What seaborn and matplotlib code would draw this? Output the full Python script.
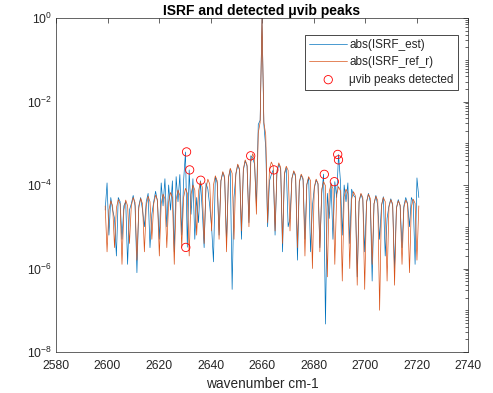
import numpy as np
import pandas as pd
import matplotlib
matplotlib.use('Agg')
import matplotlib.pyplot as plt
import matplotlib.ticker as mticker
import seaborn as sns

# wavenumber grid of the sampled ISRF (cm-1), centred on the 2660 line
wn_start = 2599.1
wn_step = 0.725
n_samples = 169

# log10 |ISRF_ref_r| (one row = one side lobe)
ref_log10 = [
    -4.50,
    -5.6, -4.6, -4.38, -4.5,
    -5.5, -4.55, -4.35, -4.45,
    -5.9, -4.6, -4.36, -4.5,
    -5.4, -4.5, -4.3, -4.42,
    -5.8, -4.55, -4.32, -4.45,
    -5.6, -4.5, -4.27, -4.4,
    -5.3, -4.45, -4.24, -4.36,
    -5.7, -4.45, -4.22, -4.33,
    -5.5, -4.4, -4.18, -4.3,
    -5.9, -4.35, -4.12, -4.25,
    -5.5, -4.3, -4.08, -4.2,
    -5.7, -4.22, -4.0, -4.12,
    -5.2, -4.15, -3.92, -4.05,
    -5.4, -4.08, -3.86, -3.98,
    -5.1, -4.0, -3.78, -3.9,
    -5.3, -3.9, -3.68, -3.8,
    -5.6, -3.82, -3.6, -3.72,
    -5.3, -3.72, -3.5, -3.62,
    -5.1, -3.62, -3.4, -3.52,
    -5.0, -3.45, -3.25, -3.38,
    -4.7, -2.75, -2.5, 0.0, -2.5, -2.8,
    -4.9, -3.62, -3.45, -3.55,
    -5.1, -3.65, -3.47, -3.58,
    -5.4, -3.72, -3.55, -3.65,
    -5.1, -3.84, -3.66, -3.76,
    -5.5, -3.92, -3.74, -3.84,
    -5.7, -3.98, -3.8, -3.9,
    -6.0, -4.05, -3.86, -3.96,
    -5.6, -4.1, -3.92, -4.02,
    -6.2, -4.16, -3.98, -4.08,
    -5.9, -4.22, -4.04, -4.14,
    -6.3, -4.28, -4.1, -4.2,
    -6.0, -4.34, -4.16, -4.26,
    -6.4, -4.38, -4.2, -4.3,
    -6.5, -4.4, -4.22, -4.32,
    -5.9, -4.45, -4.27, -4.37,
    -7.0, -4.48, -4.3, -4.4,
    -6.3, -4.53, -4.35, -4.45,
    -6.4, -4.56, -4.38, -4.48,
    -5.9, -4.54, -4.36, -4.46,
    -6.1, -4.52, -4.34, -4.44,
    -5.8, -4.5,
]

# log10 |ISRF_est|
est_log10 = [
    -4.6,
    -3.95, -5.2, -4.3, -4.6,
    -4.8, -5.7, -4.3, -4.4,
    -5.3, -4.5, -4.4, -5.9,
    -4.6, -4.45, -4.25, -4.5,
    -6.1, -4.5, -4.3, -4.6,
    -5.0, -4.4, -4.2, -5.5,
    -4.7, -4.4, -4.15, -4.4,
    -5.3, -3.95, -4.5, -3.85,
    -5.0, -4.0, -4.6, -3.9,
    -5.6, -3.8, -4.4, -3.75,
    -5.2, -3.9, -3.21, -5.49,
    -3.64, -4.7, -3.85, -5.3,
    -4.3, -4.9, -3.9, -4.6,
    -5.5, -3.95, -4.1, -4.5,
    -5.0, -5.84, -3.8, -3.95,
    -5.2, -3.9, -3.7, -3.85,
    -5.4, -3.85, -3.62, -6.5,
    -4.3, -3.75, -3.52, -3.65,
    -5.3, -3.65, -3.42, -3.55,
    -4.9, -3.3, -3.35, -3.5,
    -4.5, -2.55, -2.45, 0.0, -2.55, -3.1,
    -5.0, -3.9, -3.75, -3.64,
    -5.2, -3.7, -3.5, -3.62,
    -5.6, -3.75, -3.58, -5.0,
    -4.8, -3.85, -3.68, -3.8,
    -5.8, -3.95, -3.76, -3.88,
    -5.3, -4.0, -3.82, -5.6,
    -4.5, -4.08, -3.88, -3.98,
    -5.5, -4.2, -3.74, -7.33,
    -4.2, -4.8, -3.95, -5.3,
    -3.92, -4.3, -3.27, -3.9,
    -5.2, -4.0, -4.4, -3.95,
    -5.4, -4.1, -4.25, -4.3,
    -6.2, -4.4, -4.22, -4.35,
    -5.6, -4.42, -4.2, -4.4,
    -6.3, -4.45, -4.25, -4.5,
    -5.3, -4.5, -4.28, -5.7,
    -4.8, -4.5, -4.33, -4.5,
    -6.0, -4.55, -4.35, -4.5,
    -5.5, -4.5, -4.3, -4.45,
    -5.0, -4.3, -4.4, -5.9,
    -3.83, -4.3,
]

# detected uvib peaks
peak_wn = [2630.7, 2631.9, 2636.2, 2630.4, 2655.6, 2664.6, 2684.2, 2688.1, 2689.4, 2689.7]
peak_val = [6.2e-4, 2.3e-4, 1.3e-4, 3.2e-6, 5.0e-4, 2.3e-4, 1.8e-4, 1.2e-4, 5.4e-4, 4.0e-4]

wn = wn_start + wn_step * np.arange(n_samples)
df = pd.DataFrame({
    'wn': wn,
    'est': 10.0 ** np.array(est_log10),
    'ref': 10.0 ** np.array(ref_log10),
})

sns.set_theme(style='white')
plt.rcParams['font.family'] = ['Liberation Sans', 'DejaVu Sans']
plt.rcParams['axes.edgecolor'] = '#262626'
plt.rcParams['axes.linewidth'] = 0.5

fig = plt.figure(figsize=(4.93, 3.93), dpi=100)
ax = fig.add_axes([0.1136, 0.1043, 0.8357, 0.8499])

sns.lineplot(data=df, x='wn', y='est', ax=ax, color=(0, 0.447, 0.741),
             lw=0.5, sort=False, estimator=None, label='abs(ISRF_est)')
sns.lineplot(data=df, x='wn', y='ref', ax=ax, color=(0.85, 0.325, 0.098),
             lw=0.5, sort=False, estimator=None, label='abs(ISRF_ref_r)')
sns.scatterplot(x=peak_wn, y=peak_val, ax=ax, marker='o', s=36,
                facecolor='none', edgecolor='red', linewidth=0.6,
                label='\u03bcvib peaks detected', zorder=5)

ax.set_yscale('log')
ax.set_xlim(2580, 2740)
ax.set_ylim(1e-8, 1e0)
ax.xaxis.set_major_locator(mticker.MultipleLocator(20))
ax.yaxis.set_major_locator(mticker.FixedLocator([1e-8, 1e-6, 1e-4, 1e-2, 1e0]))
ax.yaxis.set_major_formatter(mticker.LogFormatterSciNotation())
ax.yaxis.set_minor_locator(mticker.LogLocator(base=10, subs=np.arange(1, 10), numticks=100))
ax.yaxis.set_minor_formatter(mticker.NullFormatter())

ax.tick_params(which='both', direction='in', top=True, right=True,
               color='#262626', width=0.5, labelsize=8.8, labelcolor='#262626')
ax.tick_params(which='major', length=3.5)
ax.tick_params(which='minor', length=2)
ax.tick_params(axis='x', pad=6)
ax.tick_params(axis='y', pad=3)
for s in ax.spines.values():
    s.set_visible(True)
    s.set_color('#262626')
    s.set_linewidth(0.5)

ax.set_xlabel('wavenumber cm-1', fontsize=9.8, color='#262626', labelpad=3)
ax.set_ylabel('')
ax.set_title('ISRF and detected \u03bcvib peaks', fontsize=10, fontweight='bold',
             color='black', pad=2)

leg = ax.legend(loc='upper right', bbox_to_anchor=(0.9757, 0.949), borderaxespad=0,
                fontsize=8.5, frameon=True, fancybox=False, framealpha=1,
                edgecolor='black', handlelength=3.2, handletextpad=0.2,
                labelspacing=0.45, borderpad=0.35)
leg.get_frame().set_linewidth(0.5)

fig.savefig('out.png', dpi=100)
